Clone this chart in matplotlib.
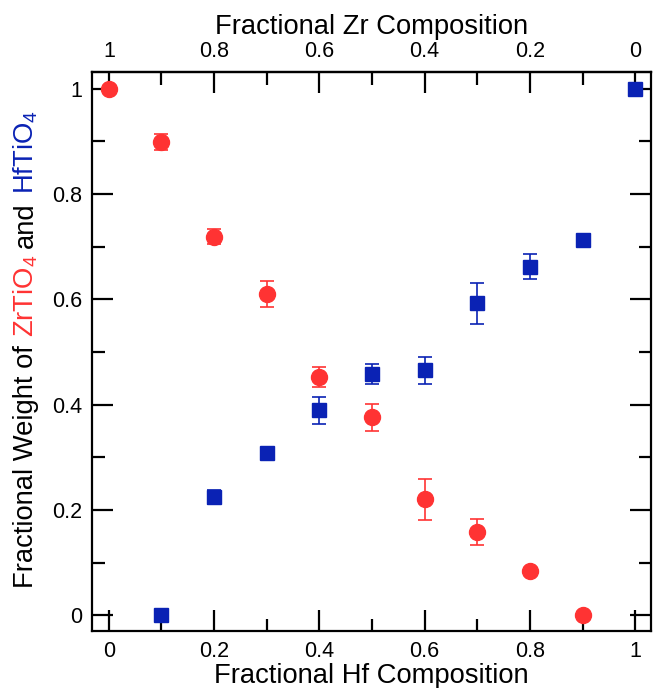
import matplotlib
matplotlib.use("Agg")
import matplotlib.pyplot as plt
from matplotlib.ticker import MultipleLocator, FuncFormatter

plt.rcParams['font.family'] = ['Liberation Sans', 'DejaVu Sans']
plt.rcParams['mathtext.fontset'] = 'custom'
plt.rcParams['mathtext.rm'] = 'Liberation Sans'
plt.rcParams['mathtext.it'] = 'Liberation Sans'
plt.rcParams['mathtext.bf'] = 'Liberation Sans'

# Fractional Hf composition of each sample
hf_zr = [0.0, 0.1, 0.2, 0.3, 0.4, 0.5, 0.6, 0.7, 0.8, 0.9]
hf_hf = [0.1, 0.2, 0.3, 0.4, 0.5, 0.6, 0.7, 0.8, 0.9, 1.0]

# ZrTiO4 weight fraction and its uncertainty
zr_weight = [1.0, 0.899, 0.719, 0.610, 0.452, 0.376, 0.220, 0.158, 0.084, 0.0]
zr_err = [0.0, 0.016, 0.014, 0.025, 0.019, 0.026, 0.039, 0.025, 0.0, 0.0]

# HfTiO4 weight fraction and its uncertainty
hf_weight = [0.0, 0.225, 0.308, 0.389, 0.459, 0.465, 0.593, 0.662, 0.713, 1.0]
hf_err = [0.0, 0.013, 0.008, 0.025, 0.019, 0.026, 0.039, 0.024, 0.0, 0.0]

major_ticks = [0, 0.2, 0.4, 0.6, 0.8, 1.0]

RED = '#ff3333'
BLUE = '#0a22b4'
LABEL_SIZE = 19.7
TICK_SIZE = 15.5

fig = plt.figure(figsize=(6.53, 6.88), dpi=100)
ax = fig.add_axes([92 / 653, 1 - 631 / 688, 559 / 653, 559 / 688])


def draw_series(x, y, err, marker, color, ms):
    # error bars only where an uncertainty was measured
    keep = [i for i, e in enumerate(err) if e > 0]
    ax.errorbar([x[i] for i in keep], [y[i] for i in keep],
                yerr=[err[i] for i in keep], fmt='none', ecolor=color,
                elinewidth=1.2, capsize=5, capthick=1.2, zorder=2)
    ax.plot(x, y, marker, color=color, ms=ms, mec=color, zorder=3)


draw_series(hf_zr, zr_weight, zr_err, 'o', RED, 11.5)
draw_series(hf_hf, hf_weight, hf_err, 's', BLUE, 10.5)

ax.set_xlim(-0.032, 1.030)
ax.set_ylim(-0.030, 1.032)

fmt = FuncFormatter(lambda v, p: '%g' % round(v, 3))
ax.set_xticks(major_ticks)
ax.set_yticks(major_ticks)
ax.xaxis.set_minor_locator(MultipleLocator(0.1))
ax.yaxis.set_minor_locator(MultipleLocator(0.1))
ax.xaxis.set_major_formatter(fmt)
ax.yaxis.set_major_formatter(fmt)

for s in ax.spines.values():
    s.set_linewidth(1.6)

ax.tick_params(which='both', direction='in', top=False, right=True,
               labelsize=TICK_SIZE, width=1.6, pad=7)
ax.tick_params(which='major', length=15)
ax.tick_params(which='minor', length=9)

# Top axis: Zr fraction is the complement of the Hf fraction
top = ax.secondary_xaxis('top', functions=(lambda x: 1 - x, lambda x: 1 - x))
top.set_xticks(major_ticks)
top.xaxis.set_minor_locator(MultipleLocator(0.1))
top.xaxis.set_major_formatter(fmt)
top.tick_params(which='both', direction='in', labelsize=TICK_SIZE, width=1.6, pad=7)
top.tick_params(which='major', length=15)
top.tick_params(which='minor', length=9)
top.spines['top'].set_linewidth(1.6)
top.set_xlabel('Fractional Zr Composition', fontsize=LABEL_SIZE, labelpad=5)

ax.set_xlabel('Fractional Hf Composition', fontsize=LABEL_SIZE, labelpad=1)

# Multi-coloured y label, built from consecutive rotated pieces
pieces = [('Fractional Weight of', 'black'), ('ZrTiO$_4$', RED),
          ('and', 'black'), ('HfTiO$_4$', BLUE)]
renderer = fig.canvas.get_renderer()


def text_len(s):
    t = fig.text(0, 0, s, fontsize=LABEL_SIZE)
    w = t.get_window_extent(renderer).width
    t.remove()
    return w


space = text_len('x x') - text_len('xx')
x_base = 33 / 653
y_px = 588.0
for s, c in pieces:
    t = fig.text(x_base, 1 - y_px / 688, s, fontsize=LABEL_SIZE, color=c,
                 rotation=90, rotation_mode='anchor', ha='left', va='baseline')
    ext = t.get_window_extent(renderer)
    y_px = 688 - ext.y1 - space

fig.savefig('out.png', dpi=100)
